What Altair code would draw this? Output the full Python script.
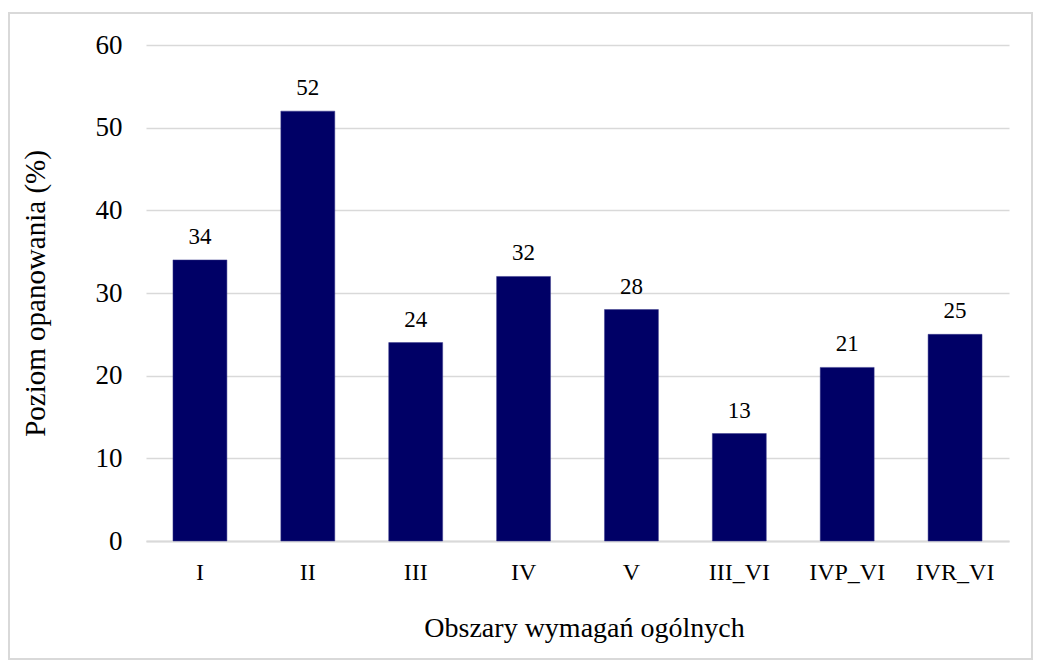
import altair as alt
import pandas as pd

categories = ["I", "II", "III", "IV", "V", "III_VI", "IVP_VI", "IVR_VI"]
values = [34, 52, 24, 32, 28, 13, 21, 25]

df = pd.DataFrame({"cat": categories, "val": values})
FONT = "'Times New Roman', 'Liberation Serif', 'DejaVu Serif', serif"

base = alt.Chart(df)

border = base.mark_rect(fill=None, stroke="#d9d9d9", strokeWidth=2, clip=False).encode(
    x=alt.value(-137), x2=alt.value(886), y=alt.value(-32), y2=alt.value(614)
)

bars = base.mark_bar(color="#000066", stroke="#3a3a8c", strokeWidth=0.5).encode(
    x=alt.X("cat:N", sort=categories, title="Obszary wymagań ogólnych",
            scale=alt.Scale(paddingInner=0.5, paddingOuter=0.25),
            axis=alt.Axis(labelAngle=0, labelFont=FONT, labelFontSize=24, labelColor="#000000",
                          titleFont=FONT, titleFontSize=28, titleFontWeight="normal", titleColor="#000000",
                          titleX=438,
                          domainColor="#d9d9d9", domainWidth=2, ticks=False, labelPadding=19, titlePadding=30)),
    y=alt.Y("val:Q", title="Poziom opanowania (%)",
            scale=alt.Scale(domain=[0, 60]),
            axis=alt.Axis(values=[0, 10, 20, 30, 40, 50, 60], labelFont=FONT, labelFontSize=27,
                          labelColor="#000000", titleFont=FONT, titleFontSize=29, titleFontWeight="normal",
                          titleColor="#000000", domain=False, ticks=False, labelPadding=24,
                          gridColor="#d9d9d9", gridWidth=1.5, titlePadding=45)),
)

labels = base.mark_text(font=FONT, fontSize=23, color="#000000", dy=-23).encode(
    x=alt.X("cat:N", sort=categories),
    y="val:Q",
    text="val:Q",
)

chart = (border + bars + labels).properties(
    width=863, height=496,
    autosize=alt.AutoSizeParams(type="none"),
    padding={"left": 138, "top": 37, "right": 24, "bottom": 119},
).configure(background="white").configure_view(stroke=None)

chart.save("out.html", embed_options={"renderer": "svg", "actions": False})
